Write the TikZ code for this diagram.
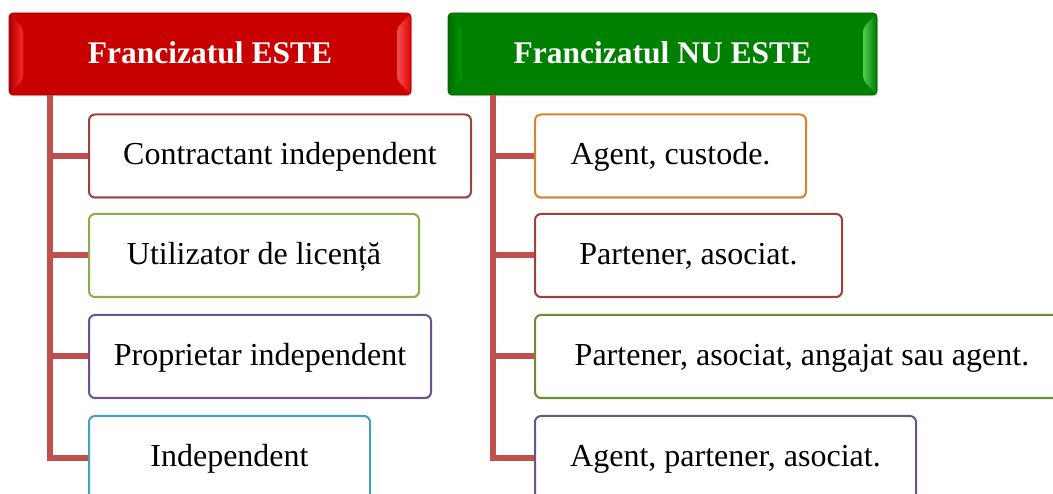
\documentclass[tikz,border=0pt]{standalone}
\usepackage{fontspec}
\setmainfont{Liberation Serif}
\usetikzlibrary{calc,shadows}

\definecolor{linkred}{HTML}{C0504D}
\definecolor{redmain}{HTML}{C80000}
\definecolor{reddark}{HTML}{A80000}
\definecolor{redlite}{HTML}{F05050}
\definecolor{greenmain}{HTML}{008000}
\definecolor{greendark}{HTML}{006A00}
\definecolor{greenlite}{HTML}{50D050}
\definecolor{bdred}{HTML}{A0403E}
\definecolor{bdolive}{HTML}{8CAD4C}
\definecolor{bdpurple}{HTML}{6E5290}
\definecolor{bdcyan}{HTML}{3FA3BE}
\definecolor{bdorange}{HTML}{D9822B}
\definecolor{bdgreen}{HTML}{6E8B34}

\tikzset{
  bevel/.style n args={4}{path picture={
    \path (path picture bounding box.north west) coordinate (pNW)
          (path picture bounding box.north east) coordinate (pNE)
          (path picture bounding box.south west) coordinate (pSW)
          (path picture bounding box.south east) coordinate (pSE);
    \shade[left color=#1, right color=#2] (pNW) -- ([shift={(14pt,-15pt)}]pNW)
      -- ([shift={(14pt,15pt)}]pSW) -- (pSW) -- cycle;
    \shade[left color=#3, right color=#4] (pNE) -- ([shift={(-14pt,-15pt)}]pNE)
      -- ([shift={(-14pt,15pt)}]pSE) -- (pSE) -- cycle;
  }},
  headbox/.style={rounded corners=4pt, minimum height=82pt, inner sep=0pt,
    text=white, font=\fontsize{31.5}{38}\selectfont\bfseries,
    text height=25pt, text depth=6pt,
    drop shadow={shadow xshift=0.5pt, shadow yshift=-1.5pt, opacity=0.3}},
  headred/.style={headbox, fill=redmain, draw=reddark, line width=0.8pt,
    bevel={reddark}{red!85!white}{redlite}{red!90!black}},
  headgreen/.style={headbox, fill=greenmain, draw=greendark, line width=0.8pt,
    bevel={greendark}{green!60!black}{greenlite}{green!45!black}},
  item/.style={rounded corners=6pt, fill=white, line width=2pt, anchor=west,
    minimum height=83pt, inner sep=0pt,
    font=\fontsize{32}{38}\selectfont, text height=24pt, text depth=6pt,
    drop shadow={shadow xshift=0.5pt, shadow yshift=-1.5pt, opacity=0.3}},
  link/.style={draw=linkred, line width=6pt, line join=miter}
}

\begin{document}
\begin{tikzpicture}[x=1pt, y=-1pt]
  \useasboundingbox (0,0) rectangle (1053,494);

  % column headers
  \node[headred, minimum width=402pt] (hA) at (210,54) {Francizatul ESTE};
  \node[headgreen, minimum width=429pt] (hB) at (662.5,54) {Francizatul NU ESTE};

  % spine starting points under the headers
  \coordinate (sA) at (50,95);
  \coordinate (sB) at (493,95);

  % branch heights and box left edges
  \coordinate (yA1) at (0,156);
  \coordinate (yA2) at (0,255.5);
  \coordinate (yA3) at (0,356.5);
  \coordinate (yA4) at (0,457.5);
  \coordinate (jA) at (88,0);
  \coordinate (jB) at (534,0);

  % connectors (drawn first so the boxes sit on top)
  \draw[link] (sA) |- (jA |- yA4);
  \draw[link] (sA |- yA1) -- (jA |- yA1);
  \draw[link] (sA |- yA2) -- (jA |- yA2);
  \draw[link] (sA |- yA3) -- (jA |- yA3);

  \draw[link] (sB) |- (jB |- yA4);
  \draw[link] (sB |- yA1) -- (jB |- yA1);
  \draw[link] (sB |- yA2) -- (jB |- yA2);
  \draw[link] (sB |- yA3) -- (jB |- yA3);

  % left column items
  \node[item, draw=bdred,    minimum width=382pt] (a1) at (jA |- yA1) {Contractant independent};
  \node[item, draw=bdolive,  minimum width=330pt] (a2) at (jA |- yA2) {Utilizator de licență};
  \node[item, draw=bdpurple, minimum width=342pt] (a3) at (jA |- yA3) {Proprietar independent};
  \node[item, draw=bdcyan,   minimum width=281pt] (a4) at (jA |- yA4) {Independent};

  % right column items
  \node[item, draw=bdorange, minimum width=271pt] (b1) at (jB |- yA1) {Agent, custode.};
  \node[item, draw=bdred,    minimum width=307pt] (b2) at (jB |- yA2) {Partener, asociat.};
  \node[item, draw=bdgreen,  minimum width=534pt] (b3) at (jB |- yA3) {Partener, asociat, angajat sau agent.};
  \node[item, draw=bdpurple, minimum width=381pt] (b4) at (jB |- yA4) {Agent, partener, asociat.};
\end{tikzpicture}
\end{document}
